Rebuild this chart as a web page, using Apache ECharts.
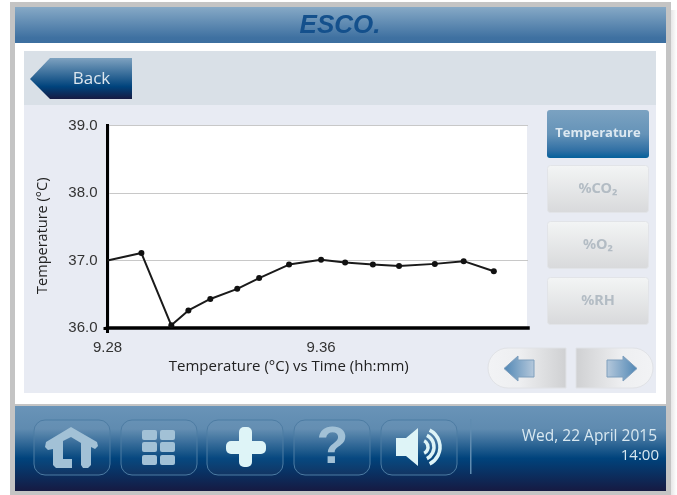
<!DOCTYPE html>
<html><head><meta charset="utf-8">
<style>html,body{margin:0;padding:0;background:#fff}#c{width:677px;height:495px}</style>
<script src="https://cdn.jsdelivr.net/npm/echarts@6/dist/echarts.min.js"></script>
</head><body><div id="c"></div>
<script>
const timeValues = [9.28,9.2927,9.3039,9.3103,9.3185,9.3286,9.3368,9.348,9.36,9.369,9.3794,9.3892,9.4026,9.4134,9.4247];
const temperatureValues = [37.0,37.11,36.04,36.26,36.43,36.58,36.74,36.94,37.01,36.97,36.94,36.92,36.95,36.99,36.84];
const sideButtons = ['%CO₂','%O₂','%RH'];
const xTitle = 'Temperature (°C) vs Time (hh:mm)';
const yTitle = 'Temperature (°C)';
const dateLine = 'Wed, 22 April 2015';
const timeLine = '14:00';

const grad = (stops, x2=0, y2=1) => new echarts.graphic.LinearGradient(0,0,x2,y2,stops.map((c,i)=>({offset:c[0],color:c[1]})));
const F = '"Open Sans"';
const rect = (x,y,w,h,fill,extra={}) => ({type:'rect',silent:true,shape:{x,y,width:w,height:h,r:extra.r||0},style:{fill,stroke:extra.stroke,lineWidth:extra.lw||0}});
const poly = (pts,fill,stroke) => ({type:'polygon',silent:true,shape:{points:pts},style:{fill,stroke,lineWidth:stroke?1:0}});
const label = (x,y,text,size,fill,extra={}) => ({type:'text',silent:true,x,y,style:Object.assign({text,fill,font:`${extra.weight||'normal'} ${size}px ${extra.family||F}`,align:extra.align||'center',verticalAlign:'middle'},extra.style||{})});

const gfx = [];
// frame
gfx.push(rect(671,10,6,485,grad([[0,'#e6e6e6'],[1,'#ffffff']],1,0)));
gfx.push(rect(10,2,661,493,'#c4c4c4'));
gfx.push(rect(15,7,651,484,'#ffffff'));
gfx.push(rect(15,7,651,36,grad([[0,'#86a9c6'],[0.85,'#3f71a1'],[1,'#3c6fa0']])));
gfx.push(label(340,26,'ESCO.',26,'#14508c',{weight:'italic bold',family:'"Liberation Sans"'}));
// panels
gfx.push(rect(24,51,632,54,'#d9e0e7'));
gfx.push(rect(24,105,632,288,'#e8ebf3'));
gfx.push(rect(110,125.5,417,202,'#ffffff'));
// back
gfx.push(poly([[30,79],[50,58],[132,58],[132,99],[50,99]],grad([[0,'#7ea2c0'],[0.7,'#00437c'],[1,'#161a42']])));
gfx.push(label(91.5,79,'Back',17,'#dde7ef'));
// side buttons
gfx.push(rect(547,110,102,48,grad([[0,'#7ba2c1'],[0.5,'#6593b8'],[0.85,'#2f6fa4'],[1,'#04609b']]),{r:3}));
gfx.push(label(598,133.5,'Temperature',13,'#dce8f1',{weight:'bold'}));
[[165.5,188.5],[221.5,245],[277.5,301]].forEach((p,i)=>{
  gfx.push(rect(547.5,p[0],101,47,grad([[0,'#f3f5f5'],[1,'#d8d9db']]),{r:3,stroke:'#e2e4e8',lw:1}));
  gfx.push(label(598,p[1],sideButtons[i],14.5,'#b3bcc4',{weight:'bold',family:'"Noto Sans"'}));
});
// arrows
gfx.push(rect(488,348,78,40,grad([[0,'#f2f3f5'],[0.4,'#eeeff1'],[1,'#cfd0d2']],1,0),{r:[20,0,0,20],stroke:'#e0e2e6',lw:1}));
gfx.push(rect(576,348,77,40,grad([[0,'#cfd0d2'],[0.6,'#eeeff1'],[1,'#f2f3f5']],1,0),{r:[0,20,20,0],stroke:'#e0e2e6',lw:1}));
gfx.push(poly([[504,368.5],[518,356],[518,360],[534,360],[534,377],[518,377],[518,381]],grad([[0,'#4f86b4'],[1,'#b6c9dc']],1,0),'#7f9fbd'));
gfx.push(poly([[637,368.5],[623,356],[623,360],[607,360],[607,377],[623,377],[623,381]],grad([[0,'#b6c9dc'],[1,'#4f86b4']],1,0),'#7f9fbd'));
// footer
gfx.push(rect(15,405,651,86,grad([[0,'#6a94b8'],[0.28,'#5f8bb0'],[0.62,'#00437c'],[1,'#161a42']])));
gfx.push(rect(15,404,651,2,'#c4c4c4'));
[[34,76],[121,76],[207,76],[294,76],[381,76]].forEach(b=>{
  gfx.push({type:'rect',silent:true,shape:{x:b[0],y:420,width:b[1],height:55,r:11},style:{fill:'rgba(255,255,255,0.03)',stroke:'#4d7ca3',lineWidth:1}});
});
// home
gfx.push(poly([[71,427],[46,442],[45,447],[48,450],[53,449],[53,465],[56,468],[72,468],[72,459],[63,459],[63,441],[71,437],[81,443],[81,465],[83,468],[88,468],[91,465],[91,447],[95,449],[98,446],[97,442]],'#a2c1d6'));
// grid icon
[[142,430],[160,430],[142,442],[160,442],[142,455],[160,455]].forEach(p=>{
  gfx.push({type:'rect',silent:true,shape:{x:p[0],y:p[1],width:15,height:10,r:2},style:{fill:'#a2c1d6'}});
});
// plus
gfx.push({type:'rect',silent:true,shape:{x:239,y:427,width:13,height:40,r:5},style:{fill:'#def4f7'}});
gfx.push({type:'rect',silent:true,shape:{x:226,y:441,width:40,height:13,r:5},style:{fill:'#def4f7'}});
// help
gfx.push(label(332.5,449,'?',52,'#a2c1d6',{weight:'bold',family:'"Liberation Sans"'}));
// speaker
gfx.push(poly([[396,438],[406,438],[418,428],[418,466],[406,456],[396,456]],'#def4f7'));
[7,13,19].forEach(r=>{
  gfx.push({type:'arc',silent:true,shape:{cx:421,cy:447,r:r,startAngle:-1.1,endAngle:1.1},style:{stroke:'#def4f7',fill:'none',lineWidth:3.5}});
});
gfx.push(rect(470,419,1.5,55,'#5f8bb0'));
gfx.push(label(657,436.5,dateLine,15.5,'#d8e8f1',{align:'right'}));
gfx.push(label(659,456,timeLine,15,'#d8e8f1',{align:'right'}));

const chart = echarts.init(document.getElementById('c'),null,{renderer:'canvas'});
chart.setOption({
  animation:false,
  backgroundColor:'#ffffff',
  graphic:{z:-20,elements:gfx},
  grid:{left:107.5,right:149,top:125.5,bottom:167},
  xAxis:{type:'value',z:1,min:9.28,max:9.4375,interval:0.08,
    axisLine:{show:true,onZero:false,lineStyle:{color:'#000',width:3.5,cap:'square'}},
    axisTick:{show:true,length:5,customValues:[9.28],lineStyle:{color:'#000',width:3}},
    splitLine:{show:false},
    axisLabel:{show:true,showMaxLabel:false,formatter:v=>v.toFixed(2),margin:12,color:'#333',fontFamily:'"Liberation Sans"',fontSize:15},
    name:xTitle,nameLocation:'middle',nameGap:31,
    nameTextStyle:{color:'#222',fontFamily:F,fontSize:15,padding:[0,58,0,0]}},
  yAxis:[{type:'value',z:1,min:36,max:39,interval:1,
    axisLine:{show:true,onZero:false,lineStyle:{color:'#000',width:3,cap:'square'}},
    axisTick:{show:false},
    splitLine:{show:true,showMinLine:false,lineStyle:{color:'#c8c8c8',width:1,type:'solid'}},
    axisLabel:{formatter:v=>v.toFixed(1),margin:10,padding:[2,0,0,0],color:'#333',fontFamily:'"Liberation Sans"',fontSize:15},
    name:yTitle,nameLocation:'middle',nameGap:57,
    nameTextStyle:{color:'#222',fontFamily:F,fontSize:14.5,padding:[0,18,0,0]},nameRotate:90},
   {type:'value',z:1,position:'left',min:36,max:39,interval:1,
    axisLine:{show:false,onZero:false},
    axisTick:{show:true,length:4,customValues:[36],lineStyle:{color:'#000',width:3}},
    splitLine:{show:false},axisLabel:{show:false}}],
  series:[{type:'line',yAxisIndex:0,smooth:false,symbol:'circle',symbolSize:6,clip:false,
    data:timeValues.map((t,i)=>i===0?{value:[t,temperatureValues[i]],symbolSize:0}:[t,temperatureValues[i]]),
    lineStyle:{color:'#1a1a1a',width:2},itemStyle:{color:'#111'}}]
});
</script></body></html>
